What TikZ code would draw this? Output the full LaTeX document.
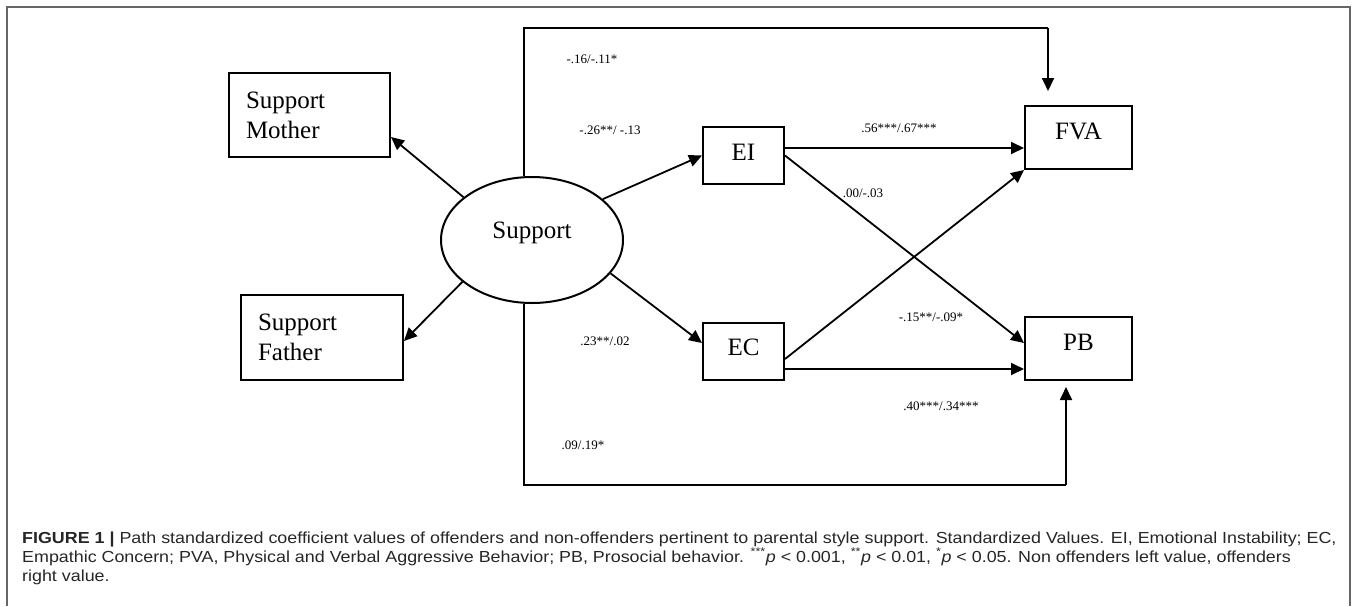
\documentclass[tikz,border=0pt]{standalone}
\usepackage{fontspec}
\setmainfont{Liberation Serif}
\newfontfamily\capfont{Liberation Sans}
\usetikzlibrary{arrows.meta,shapes.geometric}

\begin{document}
\begin{tikzpicture}[x=1pt,y=-1pt,
  box/.style={draw, line width=2pt, inner sep=0pt, font=\fontsize{25}{30}\selectfont},
  arr/.style={line width=1.8pt, -{Triangle[length=13pt,width=12pt]}},
  link/.style={line width=1.8pt},
  coef/.style={font=\fontsize{13}{15}\selectfont, inner sep=0pt},
  captext/.style={anchor=base west, inner sep=0pt, text=black!85,
              font=\capfont\fontsize{16}{20}\selectfont}
]
\useasboundingbox (0,0) rectangle (1357,606);

% outer frame
\draw[black!60, line width=1.2pt] (7,606) -- (7,7) -- (1350,7) -- (1350,606);

% latent factor and its indicators
\node[box, ellipse, minimum width=182pt, minimum height=126pt, text depth=19pt] (sup) at (532,240) {Support};
\node[box, minimum width=161pt, minimum height=84pt, align=left, text width=127pt]
  (mother) at (309.5,115) {Support\\Mother};
\node[box, minimum width=162pt, minimum height=85pt, align=left, text width=128pt]
  (father) at (322,337.5) {Support\\Father};

% mediators and outcomes
\node[box, minimum width=81pt, minimum height=57pt, text depth=6pt] (ei) at (743.5,155.5) {EI};
\node[box, minimum width=81pt, minimum height=57pt, text depth=8pt] (ec) at (743.5,351.5) {EC};
\node[box, minimum width=107pt, minimum height=63pt, text depth=13pt] (fva) at (1078.5,137.5) {FVA};
\node[box, minimum width=107pt, minimum height=63pt, text depth=12pt] (pb) at (1078.5,348.5) {PB};

% rail corners for the direct paths
\coordinate (topc) at (1048,28);
\coordinate (topend) at (1048,91);
\coordinate (botc) at (1066,485);
\coordinate (botend) at (1066,387);

% loadings
\draw[arr] (sup.148) -- ([yshift=-22pt]mother.east);
\draw[arr] (sup.211) -- ([yshift=-3.5pt]father.east);

% paths to mediators
\draw[arr] (sup.30) -- (ei.west);
\draw[arr] (sup.-23) -- ([yshift=8.5pt]ec.west);

% direct paths round the mediators
\draw[link] ([xshift=-8pt]sup.north) |- (topc);
\draw[arr] (topc) -- (topend);
\draw[link] ([xshift=-8pt]sup.south) |- (botc);
\draw[arr] (botc) -- (botend);

% mediator paths
\draw[arr] ([yshift=7.5pt]ei.east) coordinate (eia) -- (eia -| fva.west);
\draw[arr] (ei.east) -- ([yshift=5.5pt]pb.west);
\draw[arr] ([yshift=-7.5pt]ec.east) -- (fva.south west);
\draw[arr] ([yshift=-17.5pt]ec.east) coordinate (eca) -- (eca -| pb.west);

% coefficients (non-offenders / offenders)
\node[coef] (c1) at (592,59) {-.16/-.11*};
\node[coef] (c2) at (610,130) {-.26**/ -.13};
\node[coef] (c3) at (899,128) {.56***/.67***};
\node[coef] (c4) at (863,193) {.00/-.03};
\node[coef] (c5) at (931,317) {-.15**/-.09*};
\node[coef] (c6) at (605,341) {.23**/.02};
\node[coef] (c7) at (941,406) {.40***/.34***};
\node[coef] (c8) at (583,445) {.09/.19*};

% caption
\node[captext] (l1) at (22,543) {\scalebox{1.117}[1]{\textbf{FIGURE 1 |} Path standardized coefficient values of offenders and non-offenders pertinent to parental style support. Standardized Values. EI, Emotional Instability; EC,}};
\node[captext] (l2) at (22,562) {\scalebox{1.117}[1]{Empathic Concern; PVA, Physical and Verbal Aggressive Behavior; PB, Prosocial behavior. \textsuperscript{***}\textit{p} < 0.001, \textsuperscript{**}\textit{p} < 0.01, \textsuperscript{*}\textit{p} < 0.05. Non offenders left value, offenders}};
\node[captext] (l3) at (22,581) {\scalebox{1.117}[1]{right value.}};
\end{tikzpicture}
\end{document}
